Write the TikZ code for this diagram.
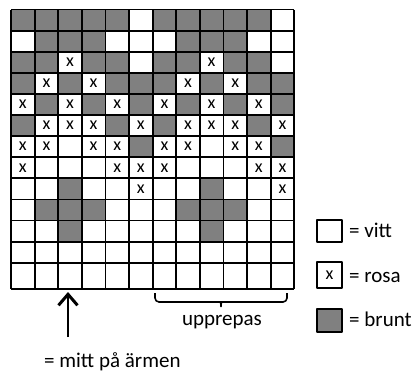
\documentclass[tikz,border=0pt]{standalone}
\usepackage{fontspec}
\setmainfont{Carlito}
\usetikzlibrary{arrows.meta}

\begin{document}
\begin{tikzpicture}[x=1pt,y=-1pt,line join=round,
		brunt/.style={fill=gray},
		linje/.style={draw=black,line width=1.8pt},
		kryss/.style={inner sep=0pt,font=\fontsize{18}{20}\selectfont},
		etikett/.style={anchor=base west,inner sep=0pt,font=\fontsize{21}{25}\selectfont},
		legruta/.style={draw=black,line width=1.8pt,minimum width=25pt,inner sep=0pt}]
		\useasboundingbox (0,0) rectangle (417,372);
		\def\bx{23.6}
		\def\by{21.1}
		% monstret, rad for rad: g = brunt, x = rosa, w = vitt
		\foreach \rad [count=\r] in {
			{g,g,g,g,g,w,g,g,g,g,g,w},
			{w,g,g,g,w,w,w,g,g,g,w,w},
			{g,g,x,g,g,w,g,g,x,g,g,w},
			{g,x,g,x,g,g,g,x,g,x,g,g},
			{x,g,x,g,x,g,x,g,x,g,x,g},
			{g,x,x,x,g,x,g,x,x,x,g,x},
			{x,x,w,x,x,g,x,x,w,x,x,g},
			{x,w,w,w,x,x,x,w,w,w,x,x},
			{w,w,g,w,w,x,w,w,g,w,w,x},
			{w,g,g,g,w,w,w,g,g,g,w,w},
			{w,w,g,w,w,w,w,w,g,w,w,w}}
		{
			\foreach \t [count=\k] in \rad {
				\if\t g
					\fill[brunt] ({11+(\k-1)*\bx},{9.5+(\r-1)*\by}) rectangle ++(\bx,\by);
				\fi
				\if\t x
					\node[kryss] (x-\r-\k) at ({11+(\k-0.5)*\bx},{9.5+(\r-0.5)*\by}) {x};
				\fi
			}
		}
		% rutnatet
		\foreach \i in {0,...,12}
			\draw[linje] (11,{9.5+\i*\by}) -- (294,{9.5+\i*\by});
		\draw[linje] (11,289) -- (294,289);
		\foreach \j in {0,...,12}
			\draw[linje] ({11+\j*\bx},9.5) -- ({11+\j*\bx},289);

		% pil mot mitten
		\coordinate (pilfot) at (68,337);
		\coordinate (pilspets) at (68,292);
		\draw[line width=1.8pt,-{Straight Barb[length=11pt,width=19pt,line width=3pt]}] (pilfot) -- (pilspets);
		\node[etikett] (mitt) at (44,367) {= mitt på ärmen};

		% klammer
		\coordinate (kv) at (155,293);
		\coordinate (kh) at (287,293);
		\draw[line width=1.6pt,rounded corners=4pt] (kv) -- (155,302) -- (217,302)
			.. controls (220,302) and (221,304) .. (221,309)
			.. controls (221,304) and (222,302) .. (225,302) -- (287,302) -- (kh);
		\node[anchor=base,inner sep=0pt,font=\fontsize{21}{25}\selectfont] (upprepas) at (222,325) {upprepas};

		% teckenforklaring
		\node[legruta,minimum height=22pt] (vitt) at (329.5,231) {};
		\node[legruta,minimum height=26pt,kryss] (rosa) at (329.5,275) {x};
		\node[legruta,minimum height=23pt,brunt] (brun) at (329.5,320.5) {};
		\node[etikett] (tvitt) at (349,237) {= vitt};
		\node[etikett] (trosa) at (349,282) {= rosa};
		\node[etikett] (tbrun) at (349,326) {= brunt};
\end{tikzpicture}
\end{document}
